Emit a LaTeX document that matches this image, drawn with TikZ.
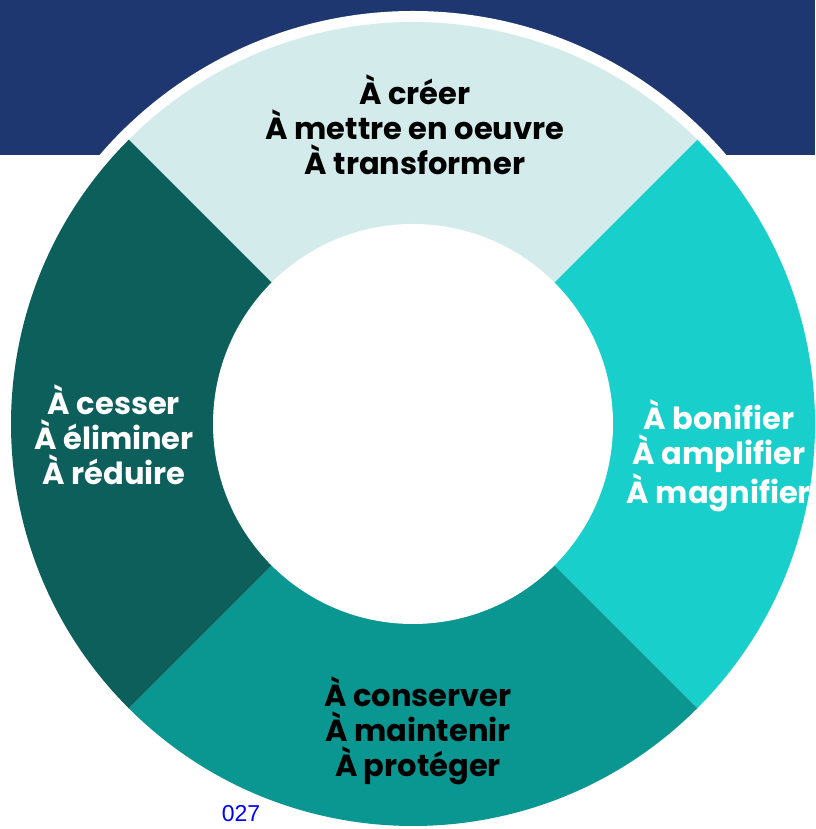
\documentclass[tikz,border=0pt]{standalone}
\usepackage{fontspec}
\setmainfont{Poppins}
\newfontfamily\pagefont{Liberation Sans}
\usetikzlibrary{positioning}
\definecolor{navyband}{HTML}{1E3770}
\definecolor{segtop}{HTML}{D3ECEB}
\definecolor{segright}{HTML}{18CFCB}
\definecolor{segbottom}{HTML}{0A9691}
\definecolor{segleft}{HTML}{0C5F5B}

\begin{document}
\begin{tikzpicture}[
    x=1pt, y=1pt,
    every node/.style={align=center, inner sep=0pt, font=\fontsize{30.5}{35}\selectfont\bfseries},
    darktext/.style={text=black},
    lighttext/.style={text=white}
]
   \useasboundingbox (0,0) rectangle (815,829);

   % Band and rim
   \fill[navyband] (0,674) rectangle (815,829);
   \coordinate (c) at (413,405);
   \fill[white] (c) circle (413);

   % Ring segments
   \foreach \a/\col in {45/segtop, -45/segright, -135/segbottom, 135/segleft}
      \fill[\col] (c) -- ++(\a:402) arc[start angle=\a, end angle=\a+90, radius=402] -- cycle;
   \fill[white] (c) circle (200);

   % Labels
   \node[darktext] (create) at (415,704) {À créer\\À mettre en oeuvre\\À transformer};
   \node[lighttext] (stop) at (114,394) {À cesser\\À éliminer\\À réduire};
   \node[lighttext] (boost) at (719,373) {À bonifier\\À amplifier\\À magnifier};
   \node[darktext] (keep) at (418,98) {À conserver\\À maintenir\\À protéger};
   \node[text=blue, font=\pagefont\fontsize{23}{23}\selectfont] (page) at (241,15) {027};
\end{tikzpicture}
\end{document}
